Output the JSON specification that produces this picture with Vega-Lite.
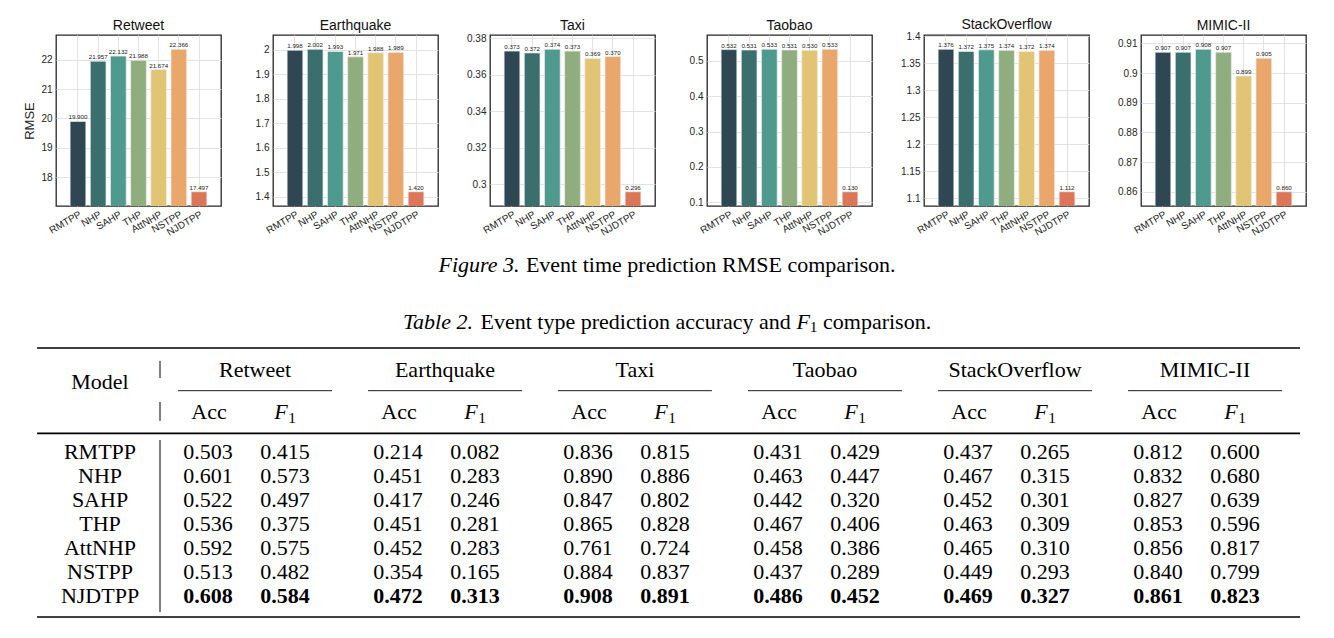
{
  "$schema": "https://vega.github.io/schema/vega-lite/v6.json",
  "padding": {"left": 21, "top": 17, "right": 5, "bottom": 2},
  "background": "white",
  "config": {
    "font": "Liberation Sans",
    "view": {"stroke": "#262626", "strokeWidth": 1.3},
    "axis": {"labelFont": "Liberation Sans", "labelFontSize": 10, "labelColor": "#262626", "titleFont": "Liberation Sans", "titleFontSize": 13, "titleFontWeight": "normal", "titleColor": "#262626", "domain": false, "ticks": false, "grid": true, "gridColor": "#e0e0e0", "gridWidth": 0.9, "labelOverlap": false},
    "axisX": {"labelAngle": -30, "labelAlign": "right", "labelBaseline": "top", "labelPadding": 3},
    "axisY": {"labelPadding": 4, "titlePadding": 4, "minExtent": 26, "maxExtent": 26},
    "title": {"font": "Liberation Sans", "fontSize": 14, "fontWeight": "normal", "color": "#111111", "offset": 2, "frame": "group"},
    "text": {"font": "Liberation Serif", "fontSize": 22, "color": "#000000", "baseline": "middle"}
  },
  "datasets": {
    "rmse": [
      {"dataset": "Retweet", "model": "RMTPP", "rmse": 19.900},
      {"dataset": "Retweet", "model": "NHP", "rmse": 21.957},
      {"dataset": "Retweet", "model": "SAHP", "rmse": 22.132},
      {"dataset": "Retweet", "model": "THP", "rmse": 21.988},
      {"dataset": "Retweet", "model": "AttNHP", "rmse": 21.674},
      {"dataset": "Retweet", "model": "NSTPP", "rmse": 22.366},
      {"dataset": "Retweet", "model": "NJDTPP", "rmse": 17.497},
      {"dataset": "Earthquake", "model": "RMTPP", "rmse": 1.998},
      {"dataset": "Earthquake", "model": "NHP", "rmse": 2.002},
      {"dataset": "Earthquake", "model": "SAHP", "rmse": 1.993},
      {"dataset": "Earthquake", "model": "THP", "rmse": 1.971},
      {"dataset": "Earthquake", "model": "AttNHP", "rmse": 1.988},
      {"dataset": "Earthquake", "model": "NSTPP", "rmse": 1.989},
      {"dataset": "Earthquake", "model": "NJDTPP", "rmse": 1.420},
      {"dataset": "Taxi", "model": "RMTPP", "rmse": 0.373},
      {"dataset": "Taxi", "model": "NHP", "rmse": 0.372},
      {"dataset": "Taxi", "model": "SAHP", "rmse": 0.374},
      {"dataset": "Taxi", "model": "THP", "rmse": 0.373},
      {"dataset": "Taxi", "model": "AttNHP", "rmse": 0.369},
      {"dataset": "Taxi", "model": "NSTPP", "rmse": 0.370},
      {"dataset": "Taxi", "model": "NJDTPP", "rmse": 0.296},
      {"dataset": "Taobao", "model": "RMTPP", "rmse": 0.532},
      {"dataset": "Taobao", "model": "NHP", "rmse": 0.531},
      {"dataset": "Taobao", "model": "SAHP", "rmse": 0.533},
      {"dataset": "Taobao", "model": "THP", "rmse": 0.531},
      {"dataset": "Taobao", "model": "AttNHP", "rmse": 0.530},
      {"dataset": "Taobao", "model": "NSTPP", "rmse": 0.533},
      {"dataset": "Taobao", "model": "NJDTPP", "rmse": 0.130},
      {"dataset": "StackOverflow", "model": "RMTPP", "rmse": 1.376},
      {"dataset": "StackOverflow", "model": "NHP", "rmse": 1.372},
      {"dataset": "StackOverflow", "model": "SAHP", "rmse": 1.375},
      {"dataset": "StackOverflow", "model": "THP", "rmse": 1.374},
      {"dataset": "StackOverflow", "model": "AttNHP", "rmse": 1.372},
      {"dataset": "StackOverflow", "model": "NSTPP", "rmse": 1.374},
      {"dataset": "StackOverflow", "model": "NJDTPP", "rmse": 1.112},
      {"dataset": "MIMIC-II", "model": "RMTPP", "rmse": 0.907},
      {"dataset": "MIMIC-II", "model": "NHP", "rmse": 0.907},
      {"dataset": "MIMIC-II", "model": "SAHP", "rmse": 0.908},
      {"dataset": "MIMIC-II", "model": "THP", "rmse": 0.907},
      {"dataset": "MIMIC-II", "model": "AttNHP", "rmse": 0.899},
      {"dataset": "MIMIC-II", "model": "NSTPP", "rmse": 0.905},
      {"dataset": "MIMIC-II", "model": "NJDTPP", "rmse": 0.860}
    ],
    "table": [
      {"model": "RMTPP", "dataset": "Retweet", "metric": "Acc", "value": 0.503},
      {"model": "RMTPP", "dataset": "Retweet", "metric": "F1", "value": 0.415},
      {"model": "RMTPP", "dataset": "Earthquake", "metric": "Acc", "value": 0.214},
      {"model": "RMTPP", "dataset": "Earthquake", "metric": "F1", "value": 0.082},
      {"model": "RMTPP", "dataset": "Taxi", "metric": "Acc", "value": 0.836},
      {"model": "RMTPP", "dataset": "Taxi", "metric": "F1", "value": 0.815},
      {"model": "RMTPP", "dataset": "Taobao", "metric": "Acc", "value": 0.431},
      {"model": "RMTPP", "dataset": "Taobao", "metric": "F1", "value": 0.429},
      {"model": "RMTPP", "dataset": "StackOverflow", "metric": "Acc", "value": 0.437},
      {"model": "RMTPP", "dataset": "StackOverflow", "metric": "F1", "value": 0.265},
      {"model": "RMTPP", "dataset": "MIMIC-II", "metric": "Acc", "value": 0.812},
      {"model": "RMTPP", "dataset": "MIMIC-II", "metric": "F1", "value": 0.600},
      {"model": "NHP", "dataset": "Retweet", "metric": "Acc", "value": 0.601},
      {"model": "NHP", "dataset": "Retweet", "metric": "F1", "value": 0.573},
      {"model": "NHP", "dataset": "Earthquake", "metric": "Acc", "value": 0.451},
      {"model": "NHP", "dataset": "Earthquake", "metric": "F1", "value": 0.283},
      {"model": "NHP", "dataset": "Taxi", "metric": "Acc", "value": 0.890},
      {"model": "NHP", "dataset": "Taxi", "metric": "F1", "value": 0.886},
      {"model": "NHP", "dataset": "Taobao", "metric": "Acc", "value": 0.463},
      {"model": "NHP", "dataset": "Taobao", "metric": "F1", "value": 0.447},
      {"model": "NHP", "dataset": "StackOverflow", "metric": "Acc", "value": 0.467},
      {"model": "NHP", "dataset": "StackOverflow", "metric": "F1", "value": 0.315},
      {"model": "NHP", "dataset": "MIMIC-II", "metric": "Acc", "value": 0.832},
      {"model": "NHP", "dataset": "MIMIC-II", "metric": "F1", "value": 0.680},
      {"model": "SAHP", "dataset": "Retweet", "metric": "Acc", "value": 0.522},
      {"model": "SAHP", "dataset": "Retweet", "metric": "F1", "value": 0.497},
      {"model": "SAHP", "dataset": "Earthquake", "metric": "Acc", "value": 0.417},
      {"model": "SAHP", "dataset": "Earthquake", "metric": "F1", "value": 0.246},
      {"model": "SAHP", "dataset": "Taxi", "metric": "Acc", "value": 0.847},
      {"model": "SAHP", "dataset": "Taxi", "metric": "F1", "value": 0.802},
      {"model": "SAHP", "dataset": "Taobao", "metric": "Acc", "value": 0.442},
      {"model": "SAHP", "dataset": "Taobao", "metric": "F1", "value": 0.320},
      {"model": "SAHP", "dataset": "StackOverflow", "metric": "Acc", "value": 0.452},
      {"model": "SAHP", "dataset": "StackOverflow", "metric": "F1", "value": 0.301},
      {"model": "SAHP", "dataset": "MIMIC-II", "metric": "Acc", "value": 0.827},
      {"model": "SAHP", "dataset": "MIMIC-II", "metric": "F1", "value": 0.639},
      {"model": "THP", "dataset": "Retweet", "metric": "Acc", "value": 0.536},
      {"model": "THP", "dataset": "Retweet", "metric": "F1", "value": 0.375},
      {"model": "THP", "dataset": "Earthquake", "metric": "Acc", "value": 0.451},
      {"model": "THP", "dataset": "Earthquake", "metric": "F1", "value": 0.281},
      {"model": "THP", "dataset": "Taxi", "metric": "Acc", "value": 0.865},
      {"model": "THP", "dataset": "Taxi", "metric": "F1", "value": 0.828},
      {"model": "THP", "dataset": "Taobao", "metric": "Acc", "value": 0.467},
      {"model": "THP", "dataset": "Taobao", "metric": "F1", "value": 0.406},
      {"model": "THP", "dataset": "StackOverflow", "metric": "Acc", "value": 0.463},
      {"model": "THP", "dataset": "StackOverflow", "metric": "F1", "value": 0.309},
      {"model": "THP", "dataset": "MIMIC-II", "metric": "Acc", "value": 0.853},
      {"model": "THP", "dataset": "MIMIC-II", "metric": "F1", "value": 0.596},
      {"model": "AttNHP", "dataset": "Retweet", "metric": "Acc", "value": 0.592},
      {"model": "AttNHP", "dataset": "Retweet", "metric": "F1", "value": 0.575},
      {"model": "AttNHP", "dataset": "Earthquake", "metric": "Acc", "value": 0.452},
      {"model": "AttNHP", "dataset": "Earthquake", "metric": "F1", "value": 0.283},
      {"model": "AttNHP", "dataset": "Taxi", "metric": "Acc", "value": 0.761},
      {"model": "AttNHP", "dataset": "Taxi", "metric": "F1", "value": 0.724},
      {"model": "AttNHP", "dataset": "Taobao", "metric": "Acc", "value": 0.458},
      {"model": "AttNHP", "dataset": "Taobao", "metric": "F1", "value": 0.386},
      {"model": "AttNHP", "dataset": "StackOverflow", "metric": "Acc", "value": 0.465},
      {"model": "AttNHP", "dataset": "StackOverflow", "metric": "F1", "value": 0.310},
      {"model": "AttNHP", "dataset": "MIMIC-II", "metric": "Acc", "value": 0.856},
      {"model": "AttNHP", "dataset": "MIMIC-II", "metric": "F1", "value": 0.817},
      {"model": "NSTPP", "dataset": "Retweet", "metric": "Acc", "value": 0.513},
      {"model": "NSTPP", "dataset": "Retweet", "metric": "F1", "value": 0.482},
      {"model": "NSTPP", "dataset": "Earthquake", "metric": "Acc", "value": 0.354},
      {"model": "NSTPP", "dataset": "Earthquake", "metric": "F1", "value": 0.165},
      {"model": "NSTPP", "dataset": "Taxi", "metric": "Acc", "value": 0.884},
      {"model": "NSTPP", "dataset": "Taxi", "metric": "F1", "value": 0.837},
      {"model": "NSTPP", "dataset": "Taobao", "metric": "Acc", "value": 0.437},
      {"model": "NSTPP", "dataset": "Taobao", "metric": "F1", "value": 0.289},
      {"model": "NSTPP", "dataset": "StackOverflow", "metric": "Acc", "value": 0.449},
      {"model": "NSTPP", "dataset": "StackOverflow", "metric": "F1", "value": 0.293},
      {"model": "NSTPP", "dataset": "MIMIC-II", "metric": "Acc", "value": 0.840},
      {"model": "NSTPP", "dataset": "MIMIC-II", "metric": "F1", "value": 0.799},
      {"model": "NJDTPP", "dataset": "Retweet", "metric": "Acc", "value": 0.608},
      {"model": "NJDTPP", "dataset": "Retweet", "metric": "F1", "value": 0.584},
      {"model": "NJDTPP", "dataset": "Earthquake", "metric": "Acc", "value": 0.472},
      {"model": "NJDTPP", "dataset": "Earthquake", "metric": "F1", "value": 0.313},
      {"model": "NJDTPP", "dataset": "Taxi", "metric": "Acc", "value": 0.908},
      {"model": "NJDTPP", "dataset": "Taxi", "metric": "F1", "value": 0.891},
      {"model": "NJDTPP", "dataset": "Taobao", "metric": "Acc", "value": 0.486},
      {"model": "NJDTPP", "dataset": "Taobao", "metric": "F1", "value": 0.452},
      {"model": "NJDTPP", "dataset": "StackOverflow", "metric": "Acc", "value": 0.469},
      {"model": "NJDTPP", "dataset": "StackOverflow", "metric": "F1", "value": 0.327},
      {"model": "NJDTPP", "dataset": "MIMIC-II", "metric": "Acc", "value": 0.861},
      {"model": "NJDTPP", "dataset": "MIMIC-II", "metric": "F1", "value": 0.823}
    ]
  },
  "spacing": 7,
  "resolve": {"scale": {"x": "independent", "y": "independent", "color": "independent"}},
  "vconcat": [
    {
      "data": {"name": "rmse"},
      "bounds": "flush",
      "spacing": 52,
      "resolve": {"scale": {"x": "independent", "y": "independent"}, "axis": {"x": "independent", "y": "independent"}},
      "hconcat": [
        {
          "width": 165, "height": 171,
          "title": {"text": "Retweet"},
          "transform": [{"filter": "datum.dataset === 'Retweet'"}],
          "encoding": {
            "x": {"field": "model", "type": "nominal", "sort": ["RMTPP","NHP","SAHP","THP","AttNHP","NSTPP","NJDTPP"], "scale": {"domain": ["RMTPP","NHP","SAHP","THP","AttNHP","NSTPP","NJDTPP"], "paddingInner": 0.22, "paddingOuter": 0.7}, "title": null},
            "y": {"field": "rmse", "type": "quantitative", "scale": {"domain": [17.0101, 22.8529], "zero": false, "nice": false}, "title": "RMSE", "axis": {"values": [18, 19, 20, 21, 22], "format": "~g", "minExtent": 16, "maxExtent": 16}}
          },
          "layer": [
            {"mark": {"type": "bar", "clip": true, "stroke": "#eeeeee", "strokeWidth": 0.7}, "encoding": {"color": {"field": "model", "type": "nominal", "scale": {"domain": ["RMTPP","NHP","SAHP","THP","AttNHP","NSTPP","NJDTPP"], "range": ["#2e4752","#3b6f6e","#4f9a8e","#8fad7e","#e1c574","#e9a76b","#db7658"]}, "legend": null}}},
            {"mark": {"type": "text", "font": "Liberation Sans", "fontSize": 6.2, "baseline": "bottom", "dy": -1, "color": "#222222"}, "encoding": {"text": {"field": "rmse", "type": "quantitative", "format": ".3f"}}}
          ]
        },
        {
          "width": 165, "height": 171,
          "title": {"text": "Earthquake"},
          "transform": [{"filter": "datum.dataset === 'Earthquake'"}],
          "encoding": {
            "x": {"field": "model", "type": "nominal", "sort": ["RMTPP","NHP","SAHP","THP","AttNHP","NSTPP","NJDTPP"], "scale": {"domain": ["RMTPP","NHP","SAHP","THP","AttNHP","NSTPP","NJDTPP"], "paddingInner": 0.22, "paddingOuter": 0.7}, "title": null},
            "y": {"field": "rmse", "type": "quantitative", "scale": {"domain": [1.3618, 2.0602], "zero": false, "nice": false}, "title": null, "axis": {"values": [1.4, 1.5, 1.6, 1.7, 1.8, 1.9, 2.0], "format": "~g"}}
          },
          "layer": [
            {"mark": {"type": "bar", "clip": true, "stroke": "#eeeeee", "strokeWidth": 0.7}, "encoding": {"color": {"field": "model", "type": "nominal", "scale": {"domain": ["RMTPP","NHP","SAHP","THP","AttNHP","NSTPP","NJDTPP"], "range": ["#2e4752","#3b6f6e","#4f9a8e","#8fad7e","#e1c574","#e9a76b","#db7658"]}, "legend": null}}},
            {"mark": {"type": "text", "font": "Liberation Sans", "fontSize": 6.2, "baseline": "bottom", "dy": -1, "color": "#222222"}, "encoding": {"text": {"field": "rmse", "type": "quantitative", "format": ".3f"}}}
          ]
        },
        {
          "width": 165, "height": 171,
          "title": {"text": "Taxi", "offset": 0},
          "transform": [{"filter": "datum.dataset === 'Taxi'"}],
          "encoding": {
            "x": {"field": "model", "type": "nominal", "sort": ["RMTPP","NHP","SAHP","THP","AttNHP","NSTPP","NJDTPP"], "scale": {"domain": ["RMTPP","NHP","SAHP","THP","AttNHP","NSTPP","NJDTPP"], "paddingInner": 0.22, "paddingOuter": 0.7}, "title": null},
            "y": {"field": "rmse", "type": "quantitative", "scale": {"domain": [0.2882, 0.3818], "zero": false, "nice": false}, "title": null, "axis": {"values": [0.3, 0.32, 0.34, 0.36, 0.38], "format": "~g"}}
          },
          "layer": [
            {"mark": {"type": "bar", "clip": true, "stroke": "#eeeeee", "strokeWidth": 0.7}, "encoding": {"color": {"field": "model", "type": "nominal", "scale": {"domain": ["RMTPP","NHP","SAHP","THP","AttNHP","NSTPP","NJDTPP"], "range": ["#2e4752","#3b6f6e","#4f9a8e","#8fad7e","#e1c574","#e9a76b","#db7658"]}, "legend": null}}},
            {"mark": {"type": "text", "font": "Liberation Sans", "fontSize": 6.2, "baseline": "bottom", "dy": -1, "color": "#222222"}, "encoding": {"text": {"field": "rmse", "type": "quantitative", "format": ".3f"}}}
          ]
        },
        {
          "width": 165, "height": 171,
          "title": {"text": "Taobao"},
          "transform": [{"filter": "datum.dataset === 'Taobao'"}],
          "encoding": {
            "x": {"field": "model", "type": "nominal", "sort": ["RMTPP","NHP","SAHP","THP","AttNHP","NSTPP","NJDTPP"], "scale": {"domain": ["RMTPP","NHP","SAHP","THP","AttNHP","NSTPP","NJDTPP"], "paddingInner": 0.22, "paddingOuter": 0.7}, "title": null},
            "y": {"field": "rmse", "type": "quantitative", "scale": {"domain": [0.0897, 0.5733], "zero": false, "nice": false}, "title": null, "axis": {"values": [0.1, 0.2, 0.3, 0.4, 0.5], "format": "~g"}}
          },
          "layer": [
            {"mark": {"type": "bar", "clip": true, "stroke": "#eeeeee", "strokeWidth": 0.7}, "encoding": {"color": {"field": "model", "type": "nominal", "scale": {"domain": ["RMTPP","NHP","SAHP","THP","AttNHP","NSTPP","NJDTPP"], "range": ["#2e4752","#3b6f6e","#4f9a8e","#8fad7e","#e1c574","#e9a76b","#db7658"]}, "legend": null}}},
            {"mark": {"type": "text", "font": "Liberation Sans", "fontSize": 6.2, "baseline": "bottom", "dy": -1, "color": "#222222"}, "encoding": {"text": {"field": "rmse", "type": "quantitative", "format": ".3f"}}}
          ]
        },
        {
          "width": 165, "height": 171,
          "title": {"text": "StackOverflow", "offset": -1},
          "transform": [{"filter": "datum.dataset === 'StackOverflow'"}],
          "encoding": {
            "x": {"field": "model", "type": "nominal", "sort": ["RMTPP","NHP","SAHP","THP","AttNHP","NSTPP","NJDTPP"], "scale": {"domain": ["RMTPP","NHP","SAHP","THP","AttNHP","NSTPP","NJDTPP"], "paddingInner": 0.22, "paddingOuter": 0.7}, "title": null},
            "y": {"field": "rmse", "type": "quantitative", "scale": {"domain": [1.0856, 1.4024], "zero": false, "nice": false}, "title": null, "axis": {"values": [1.1, 1.15, 1.2, 1.25, 1.3, 1.35, 1.4], "format": "~g"}}
          },
          "layer": [
            {"mark": {"type": "bar", "clip": true, "stroke": "#eeeeee", "strokeWidth": 0.7}, "encoding": {"color": {"field": "model", "type": "nominal", "scale": {"domain": ["RMTPP","NHP","SAHP","THP","AttNHP","NSTPP","NJDTPP"], "range": ["#2e4752","#3b6f6e","#4f9a8e","#8fad7e","#e1c574","#e9a76b","#db7658"]}, "legend": null}}},
            {"mark": {"type": "text", "font": "Liberation Sans", "fontSize": 6.2, "baseline": "bottom", "dy": -1, "color": "#222222"}, "encoding": {"text": {"field": "rmse", "type": "quantitative", "format": ".3f"}}}
          ]
        },
        {
          "width": 165, "height": 171,
          "title": {"text": "MIMIC-II"},
          "transform": [{"filter": "datum.dataset === 'MIMIC-II'"}],
          "encoding": {
            "x": {"field": "model", "type": "nominal", "sort": ["RMTPP","NHP","SAHP","THP","AttNHP","NSTPP","NJDTPP"], "scale": {"domain": ["RMTPP","NHP","SAHP","THP","AttNHP","NSTPP","NJDTPP"], "paddingInner": 0.22, "paddingOuter": 0.7}, "title": null},
            "y": {"field": "rmse", "type": "quantitative", "scale": {"domain": [0.8552, 0.9128], "zero": false, "nice": false}, "title": null, "axis": {"values": [0.86, 0.87, 0.88, 0.89, 0.9, 0.91], "format": "~g"}}
          },
          "layer": [
            {"mark": {"type": "bar", "clip": true, "stroke": "#eeeeee", "strokeWidth": 0.7}, "encoding": {"color": {"field": "model", "type": "nominal", "scale": {"domain": ["RMTPP","NHP","SAHP","THP","AttNHP","NSTPP","NJDTPP"], "range": ["#2e4752","#3b6f6e","#4f9a8e","#8fad7e","#e1c574","#e9a76b","#db7658"]}, "legend": null}}},
            {"mark": {"type": "text", "font": "Liberation Sans", "fontSize": 6.2, "baseline": "bottom", "dy": -1, "color": "#222222"}, "encoding": {"text": {"field": "rmse", "type": "quantitative", "format": ".3f"}}}
          ]
        }
      ]
    },
    {
      "bounds": "flush",
      "spacing": 0,
      "resolve": {"scale": {"x": "independent", "y": "independent"}},
      "vconcat": [
        {
          "width": 1244, "height": 195,
          "view": {"stroke": null},
          "layer": [
            {"data": {"values": [{}]}, "mark": {"type": "rule", "color": "#000000", "strokeWidth": 1.6}, "encoding": {"x": {"datum": "Retweet", "type": "nominal", "bandPosition": -0.647, "scale": {"domain": ["Retweet","Earthquake","Taxi","Taobao","StackOverflow","MIMIC-II"], "paddingInner": 0, "paddingOuter": 0.2737, "align": 1}, "axis": null}, "x2": {"datum": "MIMIC-II", "bandPosition": 1}, "y": {"datum": 4.292, "type": "quantitative", "scale": {"domain": [0, 8.125], "reverse": true, "nice": false, "zero": false}, "axis": null}}},
            {"data": {"values": [{}]}, "mark": {"type": "rule", "color": "#000000", "strokeWidth": 1.6}, "encoding": {"x": {"datum": "Retweet", "type": "nominal", "bandPosition": -0.647, "axis": null}, "x2": {"datum": "MIMIC-II", "bandPosition": 1}, "y": {"datum": 7.85, "type": "quantitative", "axis": null}}},
            {"data": {"values": [{"t": "Figure 3."}]}, "mark": {"type": "text", "fontStyle": "italic", "align": "left", "dx": -239.5}, "encoding": {"text": {"field": "t"}, "y": {"datum": 0.833, "type": "quantitative", "axis": null}}},
            {"data": {"values": [{"t": "Event time prediction RMSE comparison."}]}, "mark": {"type": "text", "align": "left", "dx": -152.1}, "encoding": {"text": {"field": "t"}, "y": {"datum": 0.833, "type": "quantitative", "axis": null}}},
            {"data": {"values": [{"t": "Table 2."}]}, "mark": {"type": "text", "fontStyle": "italic", "align": "left", "dx": -275.1}, "encoding": {"text": {"field": "t"}, "y": {"datum": 3.208, "type": "quantitative", "axis": null}}},
            {"data": {"values": [{"t": "Event type prediction accuracy and"}]}, "mark": {"type": "text", "align": "left", "dx": -197.5}, "encoding": {"text": {"field": "t"}, "y": {"datum": 3.208, "type": "quantitative", "axis": null}}},
            {"data": {"values": [{"t": "F"}]}, "mark": {"type": "text", "fontStyle": "italic", "align": "left", "dx": 118.4}, "encoding": {"text": {"field": "t"}, "y": {"datum": 3.208, "type": "quantitative", "axis": null}}},
            {"data": {"values": [{"t": "1"}]}, "mark": {"type": "text", "fontSize": 15.4, "align": "left", "dx": 131.8, "dy": 5.5}, "encoding": {"text": {"field": "t"}, "y": {"datum": 3.208, "type": "quantitative", "axis": null}}},
            {"data": {"values": [{"t": "comparison."}]}, "mark": {"type": "text", "align": "left", "dx": 145}, "encoding": {"text": {"field": "t"}, "y": {"datum": 3.208, "type": "quantitative", "axis": null}}},
            {"data": {"values": [{"t": "Model"}]}, "mark": {"type": "text", "align": "center", "dx": -60}, "encoding": {"text": {"field": "t"}, "x": {"datum": "Retweet", "type": "nominal", "bandPosition": 0, "axis": null}, "y": {"datum": 5.70, "type": "quantitative", "axis": null}}},
            {"data": {"values": [{}]}, "mark": {"type": "rule", "color": "#000000", "strokeWidth": 1}, "encoding": {"x": {"datum": "Retweet", "type": "nominal", "bandPosition": 0, "axis": null}, "y": {"datum": 4.83, "type": "quantitative", "axis": null}, "y2": {"datum": 5.54}}},
            {"data": {"values": [{}]}, "mark": {"type": "rule", "color": "#000000", "strokeWidth": 1}, "encoding": {"x": {"datum": "Retweet", "type": "nominal", "bandPosition": 0, "axis": null}, "y": {"datum": 6.54, "type": "quantitative", "axis": null}, "y2": {"datum": 7.33}}},
            {"data": {"name": "table"}, "transform": [{"filter": "datum.model === 'RMTPP' && datum.metric === 'Acc'"}], "mark": {"type": "text", "align": "center"}, "encoding": {"text": {"field": "dataset"}, "x": {"field": "dataset", "type": "nominal", "axis": null}, "y": {"datum": 5.22, "type": "quantitative", "axis": null}}},
            {"data": {"name": "table"}, "transform": [{"filter": "datum.model === 'RMTPP' && datum.metric === 'Acc'"}], "mark": {"type": "rule", "color": "#000000", "strokeWidth": 0.9}, "encoding": {"x": {"field": "dataset", "type": "nominal", "bandPosition": 0.095, "axis": null}, "x2": {"field": "dataset", "bandPosition": 0.905}, "y": {"datum": 6.07, "type": "quantitative", "axis": null}}},
            {"data": {"name": "table"}, "transform": [{"filter": "datum.model === 'RMTPP' && datum.metric === 'Acc'"}], "mark": {"type": "text", "align": "center", "dx": -46}, "encoding": {"text": {"field": "metric"}, "x": {"field": "dataset", "type": "nominal", "axis": null}, "y": {"datum": 6.96, "type": "quantitative", "axis": null}}},
            {"data": {"name": "table"}, "transform": [{"filter": "datum.model === 'RMTPP' && datum.metric === 'F1'"}], "mark": {"type": "text", "fontStyle": "italic", "align": "center", "dx": 26, "text": "F"}, "encoding": {"x": {"field": "dataset", "type": "nominal", "axis": null}, "y": {"datum": 6.96, "type": "quantitative", "axis": null}}},
            {"data": {"name": "table"}, "transform": [{"filter": "datum.model === 'RMTPP' && datum.metric === 'F1'"}], "mark": {"type": "text", "fontSize": 15.4, "align": "center", "dx": 37, "dy": 6, "text": "1"}, "encoding": {"x": {"field": "dataset", "type": "nominal", "axis": null}, "y": {"datum": 6.96, "type": "quantitative", "axis": null}}}
          ]
        },
        {
          "width": 1244, "height": 182,
          "view": {"stroke": null},
          "data": {"name": "table"},
          "encoding": {
            "x": {"field": "dataset", "type": "nominal", "scale": {"domain": ["Retweet","Earthquake","Taxi","Taobao","StackOverflow","MIMIC-II"], "paddingInner": 0, "paddingOuter": 0.2737, "align": 1}, "axis": null},
            "y": {"field": "model", "type": "nominal", "scale": {"domain": ["RMTPP","NHP","SAHP","THP","AttNHP","NSTPP","NJDTPP"], "paddingInner": 0, "paddingOuter": 0.2917, "align": 0}, "axis": null}
          },
          "layer": [
            {"transform": [{"filter": "datum.model !== 'NJDTPP' && datum.metric === 'Acc'"}], "mark": {"type": "text", "align": "center", "dx": -47}, "encoding": {"text": {"field": "value", "type": "quantitative", "format": ".3f"}}},
            {"transform": [{"filter": "datum.model !== 'NJDTPP' && datum.metric === 'F1'"}], "mark": {"type": "text", "align": "center", "dx": 30}, "encoding": {"text": {"field": "value", "type": "quantitative", "format": ".3f"}}},
            {"transform": [{"filter": "datum.model === 'NJDTPP' && datum.metric === 'Acc'"}], "mark": {"type": "text", "fontWeight": "bold", "align": "center", "dx": -47}, "encoding": {"text": {"field": "value", "type": "quantitative", "format": ".3f"}}},
            {"transform": [{"filter": "datum.model === 'NJDTPP' && datum.metric === 'F1'"}], "mark": {"type": "text", "fontWeight": "bold", "align": "center", "dx": 30}, "encoding": {"text": {"field": "value", "type": "quantitative", "format": ".3f"}}},
            {"transform": [{"filter": "datum.dataset === 'Retweet' && datum.metric === 'Acc'"}], "mark": {"type": "text", "align": "center", "dx": -60}, "encoding": {"text": {"field": "model"}, "x": {"datum": "Retweet", "type": "nominal", "bandPosition": 0, "axis": null}}},
            {"transform": [{"filter": "datum.dataset === 'Retweet' && datum.metric === 'Acc' && datum.model === 'RMTPP'"}], "mark": {"type": "rule", "color": "#000000", "strokeWidth": 1}, "encoding": {"x": {"datum": "Retweet", "type": "nominal", "bandPosition": 0, "axis": null}, "y": {"datum": "RMTPP", "type": "nominal", "bandPosition": 0, "axis": null}, "y2": {"datum": "NJDTPP", "bandPosition": 1.1667}}},
            {"transform": [{"filter": "datum.dataset === 'Retweet' && datum.metric === 'Acc' && datum.model === 'RMTPP'"}], "mark": {"type": "rule", "color": "#000000", "strokeWidth": 1.6}, "encoding": {"x": {"datum": "Retweet", "type": "nominal", "bandPosition": -0.647, "axis": null}, "x2": {"datum": "MIMIC-II", "bandPosition": 1}, "y": {"datum": "NJDTPP", "type": "nominal", "bandPosition": 1.375, "axis": null}}},
            {"transform": [{"filter": "datum.dataset === 'Retweet' && datum.metric === 'Acc' && datum.model === 'RMTPP'"}], "mark": {"type": "rule", "color": "#ffffff", "opacity": 0, "strokeWidth": 1}, "encoding": {"x": {"datum": "Retweet", "type": "nominal", "bandPosition": -0.731, "axis": null}, "x2": {"datum": "Retweet", "bandPosition": -0.647}, "y": {"datum": "NJDTPP", "type": "nominal", "bandPosition": 1.375, "axis": null}}}
          ]
        }
      ]
    }
  ]
}
